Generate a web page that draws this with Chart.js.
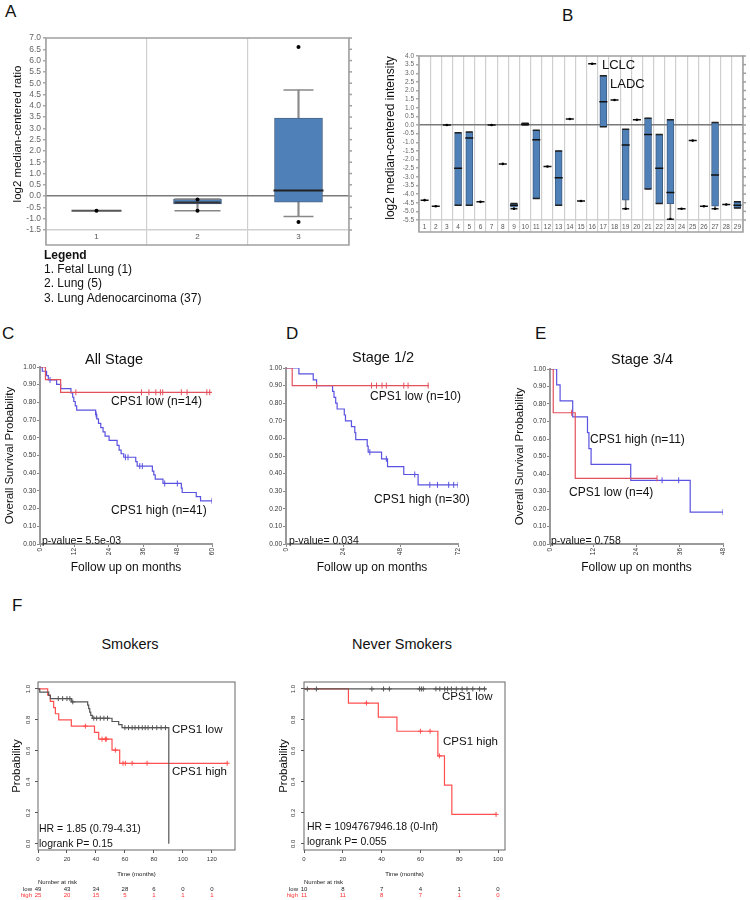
<!DOCTYPE html>
<html><head><meta charset="utf-8"><title>CPS1 figure</title>
<script src="https://cdn.jsdelivr.net/npm/chart.js@4.4.1/dist/chart.umd.min.js"></script>
<style>
html,body{margin:0;padding:0;background:#fff;}
#page{position:relative;width:750px;height:900px;overflow:hidden;font-family:"Liberation Sans",Arial,Helvetica,sans-serif;color:#111;}
#page canvas{position:absolute;}
.t{position:absolute;white-space:nowrap;line-height:1;transform:translate(0,-50%);}
.c{transform:translate(-50%,-50%);}
.L{font-size:17px;}
.ttl{font-size:14.5px;}
.an{font-size:12px;}
.sm{font-size:10.5px;}
</style></head>
<body><div id="page">
<canvas id="cA" width="360" height="225" style="left:0px;top:30px"></canvas>
<canvas id="cB" width="375" height="200" style="left:375px;top:45px"></canvas>
<canvas id="cC" width="250" height="240" style="left:0px;top:345px"></canvas>
<canvas id="cD" width="250" height="240" style="left:250px;top:345px"></canvas>
<canvas id="cE" width="250" height="240" style="left:500px;top:345px"></canvas>
<canvas id="cF1" width="260" height="230" style="left:0px;top:670px"></canvas>
<canvas id="cF2" width="260" height="230" style="left:260px;top:670px"></canvas>

<div class="t L" style="left:5px;top:11px">A</div>
<div class="t L" style="left:562px;top:15px">B</div>
<div class="t L" style="left:2px;top:333px">C</div>
<div class="t L" style="left:286px;top:333px">D</div>
<div class="t L" style="left:535px;top:333px">E</div>
<div class="t L" style="left:12px;top:605px">F</div>

<div class="t an" style="left:44px;top:255px;font-weight:bold">Legend</div>
<div class="t an" id="lg1" style="left:44px;top:269px"></div>
<div class="t an" id="lg2" style="left:44px;top:283px"></div>
<div class="t an" id="lg3" style="left:44px;top:298px"></div>

<div class="t" style="left:602px;top:64px;font-size:13px">LCLC</div>
<div class="t" style="left:610px;top:83px;font-size:13px">LADC</div>

<div class="t c ttl" style="left:114px;top:359px">All Stage</div>
<div class="t c ttl" style="left:383px;top:357px">Stage 1/2</div>
<div class="t c ttl" style="left:642px;top:359px">Stage 3/4</div>
<div class="t c ttl" style="left:130px;top:644px">Smokers</div>
<div class="t c ttl" style="left:402px;top:644px">Never Smokers</div>

<div class="t an" style="left:111px;top:401px">CPS1 low (n=14)</div>
<div class="t an" style="left:111px;top:510px">CPS1 high (n=41)</div>
<div class="t sm" style="left:42px;top:540px">p-value= 5.5e-03</div>
<div class="t an" style="left:370px;top:396px">CPS1 low (n=10)</div>
<div class="t an" style="left:374px;top:499px">CPS1 high (n=30)</div>
<div class="t sm" style="left:289px;top:540px">p-value= 0.034</div>
<div class="t an" style="left:590px;top:439px">CPS1 high (n=11)</div>
<div class="t an" style="left:569px;top:492px">CPS1 low (n=4)</div>
<div class="t sm" style="left:551px;top:540px">p-value= 0.758</div>

<div class="t an" style="left:172px;top:730px;font-size:11.5px">CPS1 low</div>
<div class="t an" style="left:172px;top:772px;font-size:11.5px">CPS1 high</div>
<div class="t sm" style="left:39px;top:828px">HR = 1.85 (0.79-4.31)</div>
<div class="t sm" style="left:39px;top:843px">logrank P= 0.15</div>
<div class="t an" style="left:442px;top:697px;font-size:11.5px">CPS1 low</div>
<div class="t an" style="left:443px;top:742px;font-size:11.5px">CPS1 high</div>
<div class="t sm" style="left:307px;top:826px">HR = 1094767946.18 (0-Inf)</div>
<div class="t sm" style="left:307px;top:841px">logrank P= 0.055</div>
</div>
<script>
const FONT = '"Liberation Sans", Arial, Helvetica, sans-serif';
Chart.defaults.font.family = FONT;
Chart.defaults.color = '#222';

// ---------- Panel A : box plot ----------
const catsA = ['1', '2', '3'];
const aQ1 = [null, -0.34, -0.27];
const aQ3 = [null, -0.13, 3.45];
const aMed = [-0.65, -0.28, 0.25];
const aLo = [null, -0.65, -0.9];
const aHi = [null, -0.13, 4.7];
const aDotCats = ['1', '2', '2', '3', '3'];
const aDotVals = [-0.65, -0.15, -0.65, 6.6, -1.15];
const aYTicks = [7, 6.5, 6, 5.5, 5, 4.5, 4, 3.5, 3, 2.5, 2, 1.5, 1, 0.5, 0, -0.5, -1, -1.5];
const legendA = ['1. Fetal Lung (1)', '2. Lung (5)', '3. Lung Adenocarcinoma (37)'];

// ---------- Panel B : box plot ----------
const catsB = ['1','2','3','4','5','6','7','8','9','10','11','12','13','14','15','16','17','18','19','20','21','22','23','24','25','26','27','28','29'];
const bQ1 = [null,null,null,-4.65,-4.65,null,null,null,-4.75,0.0,-4.25,null,-4.65,null,null,null,-0.1,null,-4.35,null,-3.7,-4.55,-4.55,null,null,null,-4.7,null,-4.8];
const bQ3 = [null,null,null,-0.45,-0.4,null,null,null,-4.55,0.1,-0.3,null,-1.5,null,null,null,2.85,null,-0.25,null,0.4,-0.55,0.3,null,null,null,0.15,null,-4.45];
const bMed = [-4.35,-4.7,0.0,-2.5,-0.75,-4.45,0.0,-2.25,-4.65,0.05,-0.85,-2.4,-3.05,0.35,-4.4,3.55,1.35,1.45,-1.15,0.3,-0.55,-2.5,-3.9,-4.85,-0.9,-4.7,-2.9,-4.6,-4.65];
const bLo = [null,null,null,-4.65,-4.65,null,null,null,-4.85,0.0,-4.25,null,-4.65,null,null,null,-0.1,null,-4.85,null,-3.7,-4.55,-5.45,null,null,null,-4.85,null,-4.8];
const bHi = [null,null,null,-0.45,-0.4,null,null,null,-4.55,0.1,-0.3,null,-1.5,null,null,null,2.85,null,-0.25,null,0.4,-0.55,0.3,null,null,null,0.15,null,-4.45];
const bDotCats = ['1','2','3','6','7','8','12','14','15','16','18','20','24','25','26','28','9','19','23','27'];
const bDotVals = [-4.35,-4.7,0.0,-4.45,0.0,-2.25,-2.4,0.35,-4.4,3.55,1.45,0.3,-4.85,-0.9,-4.7,-4.6,-4.85,-4.85,-5.45,-4.85];
const bYTicks = [4,3.5,3,2.5,2,1.5,1,0.5,0,-0.5,-1,-1.5,-2,-2.5,-3,-3.5,-4,-4.5,-5,-5.5];

// ---------- Panels C/D/E : Kaplan-Meier ----------
const kmYTicks = [0,0.1,0.2,0.3,0.4,0.5,0.6,0.7,0.8,0.9,1.0];
const cXTicks = [0,12,24,36,48,60];
const cLowT = [0, 1.9, 7.2];
const cLowS = [1, 0.929, 0.857];
const cLowEnd = 60;
const cLowCens = [12.5, 35.4, 38, 40.4, 42, 42.8, 49.3, 51.3, 58.2, 59.2];
const cHighT = [0,0.8,2.3,2.9,5.8,7.2,10.8,11.4,11.8,12.3,12.8,19.4,19.8,20.4,21.2,22.0,22.7,24.1,26.9,27.6,28.3,29.2,33.4,33.9,39.2,39.7,40.2,42.9,49.3,49.6,54.5,56.0];
const cHighS = [1,0.976,0.951,0.927,0.902,0.878,0.854,0.829,0.805,0.780,0.756,0.731,0.707,0.682,0.658,0.634,0.610,0.585,0.557,0.530,0.510,0.490,0.465,0.440,0.412,0.390,0.366,0.342,0.316,0.291,0.268,0.244];
const cHighEnd = 60;
const cHighCens = [3.5, 19.6, 29.8, 30.7, 34.8, 35.7, 43.5, 47.9, 60];

const dXTicks = [0,24,48,72];
const dLowT = [0, 2.6];
const dLowS = [1, 0.9];
const dLowEnd = 59.8;
const dLowCens = [12.8, 35.8, 37.9, 40.2, 42, 49.3, 51.1, 59.5];
const dHighT = [0,5.4,11.4,12.8,19.5,20.1,20.8,21.4,24.4,24.9,27.4,28.8,29.2,34.0,34.4,40.0,42.5,49.3,55.3];
const dHighS = [1,0.967,0.933,0.900,0.867,0.833,0.800,0.767,0.733,0.700,0.667,0.633,0.593,0.556,0.522,0.484,0.440,0.395,0.336];
const dHighEnd = 72;
const dHighCens = [35.1, 42, 53.9, 60.2, 63.4, 68.1, 70.2, 72];

const eXTicks = [0,12,24,36,48];
const eLowT = [0, 0.9, 7.0];
const eLowS = [1, 0.75, 0.375];
const eLowEnd = 29.7;
const eLowCens = [6.0, 29.7];
const eHighT = [0,1.85,2.8,6.3,10.4,10.8,11.4,22.4,38.9];
const eHighS = [1,0.909,0.818,0.727,0.636,0.545,0.455,0.364,0.182];
const eHighEnd = 48;
const eHighCens = [31.1, 35.7, 48];

// ---------- Panel F : smokers / never smokers ----------
const fYTicks = [0,0.2,0.4,0.6,0.8,1.0];
const f1XTicks = [0,20,40,60,80,100,120];
const f1LowT = [0,1.2,7.4,8.5,23,34.3,35,35.7,36.4,37.5,51.1,55.7,58,90.3];
const f1LowS = [1,0.98,0.959,0.938,0.917,0.896,0.873,0.85,0.83,0.811,0.79,0.77,0.75,0];
const f1LowEnd = 90.3;
const f1LowCens = [14,17,20,22,24,38.5,40.5,43,45.5,48,60,62.5,65,67,69.5,72,74,76,79,82,85,88];
const f1HighT = [0,6.7,8.5,10.8,12,14.3,23,39,41.9,51.1,56.4];
const f1HighS = [1,0.96,0.92,0.88,0.84,0.80,0.76,0.72,0.676,0.605,0.52];
const f1HighEnd = 130.6;
const f1HighCens = [32.7,44.2,46.5,47.2,53.4,58.7,60.3,65,75.3,130.6];
const riskTimesF1 = [0,20,40,60,80,100,120];
const riskLowF1 = [49,43,34,28,6,0,0];
const riskHighF1 = [25,20,15,5,1,1,1];

const f2XTicks = [0,20,40,60,80,100];
const f2LowT = [0];
const f2LowS = [1];
const f2LowEnd = 94;
const f2LowCens = [1.7,6.4,35,41,44,59.5,60.5,61.5,68,70,72.5,74,76,78.5,81.5,84,87,90.5,93];
const f2HighT = [0,22.9,38.3,47.9,69,72.4,76.2];
const f2HighS = [1,0.909,0.818,0.727,0.568,0.379,0.19];
const f2HighEnd = 99;
const f2HighCens = [32.2,60,65,69.8,99];
const riskTimesF2 = [0,20,40,60,80,100];
const riskLowF2 = [10,8,7,4,1,0];
const riskHighF2 = [11,11,8,7,1,0];

// ---------- helpers ----------
document.getElementById('lg1').textContent = legendA[0];
document.getElementById('lg2').textContent = legendA[1];
document.getElementById('lg3').textContent = legendA[2];

function stepPoints(t, s, end) {
  const pts = t.map((v, i) => ({x: v, y: s[i]}));
  pts.push({x: end, y: s[s.length - 1]});
  return pts;
}
function survAt(t, s, time) {
  let v = s[0];
  for (let i = 0; i < t.length; i++) { if (t[i] <= time) v = s[i]; }
  return v;
}
function makeFrame(o) {
  return {id: 'frame', afterDraw(chart) {
    const {ctx, chartArea: a} = chart;
    ctx.save();
    ctx.strokeStyle = o.color; ctx.lineWidth = o.width;
    ctx.strokeRect(a.left, a.top, a.right - a.left, a.bottom - a.top + (o.extra || 0));
    if (o.rightTicks) {
      const y = chart.scales.y;
      y.ticks.forEach(tk => {
        const p = y.getPixelForValue(tk.value);
        ctx.beginPath(); ctx.moveTo(a.right, p); ctx.lineTo(a.right + o.rightTicks, p); ctx.stroke();
      });
    }
    ctx.restore();
  }};
}
function makeRotY(o) {
  return {id: 'rotY', afterDraw(chart) {
    const {ctx} = chart; const y = chart.scales.y;
    ctx.save();
    ctx.font = o.size + 'px ' + FONT; ctx.fillStyle = '#333';
    ctx.textAlign = 'center'; ctx.textBaseline = 'middle';
    o.ticks.forEach(v => {
      const p = y.getPixelForValue(v);
      ctx.save(); ctx.translate(o.x, p); ctx.rotate(-Math.PI / 2);
      ctx.fillText(v.toFixed(1), 0, 0); ctx.restore();
    });
    ctx.restore();
  }};
}
function makeRisk(o) {
  return {id: 'risk', afterDraw(chart) {
    const {ctx, chartArea: a} = chart; const x = chart.scales.x;
    ctx.save();
    ctx.font = '6px ' + FONT; ctx.textBaseline = 'middle';
    const x0 = x.getPixelForValue(o.times[0]);
    ctx.fillStyle = '#222'; ctx.textAlign = 'left';
    ctx.fillText('Number at risk', x0, a.bottom + o.dy[0]);
    ctx.textAlign = 'right';
    ctx.fillText('low', x0 - 6, a.bottom + o.dy[1]);
    ctx.fillStyle = o.highColor;
    ctx.fillText('high', x0 - 6, a.bottom + o.dy[2]);
    ctx.textAlign = 'center';
    o.times.forEach((t, i) => {
      const px = x.getPixelForValue(t);
      ctx.fillStyle = '#222'; ctx.fillText(String(o.low[i]), px, a.bottom + o.dy[1]);
      ctx.fillStyle = o.highColor; ctx.fillText(String(o.high[i]), px, a.bottom + o.dy[2]);
    });
    ctx.restore();
  }};
}

const BLUE = '#4f80b8';

function boxChart(id, o) {
  const cats = o.cats;
  return new Chart(document.getElementById(id), {
    type: 'bar',
    data: {labels: cats, datasets: [
      {type: 'bar', data: cats.map((c, i) => o.lo[i] == null ? null : [o.lo[i], o.hi[i]]), backgroundColor: o.whColor, barThickness: o.whW, grouped: false, order: 5},
      {type: 'bar', data: cats.map((c, i) => o.q1[i] == null ? null : [o.q1[i], o.q3[i]]), backgroundColor: BLUE, borderColor: o.boxBorder, borderWidth: 1, borderSkipped: false, barThickness: o.boxW, grouped: false, order: 4},
      {type: 'line', data: o.lo, showLine: false, pointStyle: 'line', pointRadius: o.capR, pointBorderColor: o.capColor, pointBackgroundColor: o.capColor, pointBorderWidth: o.capLW, order: 3},
      {type: 'line', data: o.hi, showLine: false, pointStyle: 'line', pointRadius: o.capR, pointBorderColor: o.capColor, pointBackgroundColor: o.capColor, pointBorderWidth: o.capLW, order: 3},
      {type: 'line', data: o.med, showLine: false, pointStyle: 'line', pointRadius: o.medR, pointBorderColor: o.medColor, pointBackgroundColor: o.medColor, pointBorderWidth: o.medLW, order: 2},
      {type: 'line', data: o.dotCats.map((c, i) => ({x: c, y: o.dotVals[i]})), showLine: false, pointStyle: 'circle', pointRadius: o.dotR, pointBackgroundColor: '#000', pointBorderColor: '#000', pointBorderWidth: 0, order: 1}
    ]},
    options: {
      devicePixelRatio: 1, responsive: false, animation: false, events: [],
      layout: {padding: o.pad, autoPadding: false},
      plugins: {legend: {display: false}, tooltip: {enabled: false}},
      scales: {
        x: {type: 'category', offset: true, border: {display: false},
          grid: {offset: true, color: '#cfcfcf', lineWidth: 1.2, drawTicks: true, tickLength: o.xH, tickColor: '#cfcfcf'},
          ticks: {font: {size: o.xFont}, color: '#555', padding: o.xPad, autoSkip: false, maxRotation: 0},
          afterFit: s => { s.height = o.xH; }},
        y: {type: 'linear', min: o.yMin, max: o.yMax, border: {display: false},
          afterBuildTicks: s => { s.ticks = o.yTicks.map(v => ({value: v})); },
          grid: {color: c => (c.tick && c.tick.value === 0) ? '#7a7a7a' : ((c.tick && c.tick.value === o.yMin) ? '#d0d0d0' : 'rgba(0,0,0,0)'),
                 lineWidth: 1.5, tickColor: '#aaa', tickLength: 3},
          ticks: {font: {size: o.yFont}, color: '#666', padding: 2, autoSkip: false, callback: v => Number(v).toFixed(1)},
          title: {display: true, text: o.yTitle, font: {size: o.yTitleSize}, color: '#111', padding: {top: o.yTitlePad, bottom: 0}},
          afterFit: s => { s.width = o.yW; }}
      }
    },
    plugins: [makeFrame({extra: o.xH, color: '#a0a0a0', width: 1.5, rightTicks: 3})]
  });
}

function kmChart(id, o) {
  const ds = [
    {data: stepPoints(o.hT, o.hS, o.hEnd), borderColor: o.hC, borderWidth: o.lw, stepped: 'before', pointRadius: 0, fill: false, order: 3},
    {data: stepPoints(o.lT, o.lS, o.lEnd), borderColor: o.lC, borderWidth: o.lw, stepped: 'before', pointRadius: 0, fill: false, order: 2},
    {data: o.hCens.map(t => ({x: t, y: survAt(o.hT, o.hS, t)})), showLine: false, pointStyle: o.mark, pointRotation: o.markRot, pointRadius: o.markR, pointBorderColor: o.hC, pointBackgroundColor: o.hC, pointBorderWidth: 1, order: 1},
    {data: o.lCens.map(t => ({x: t, y: survAt(o.lT, o.lS, t)})), showLine: false, pointStyle: o.mark, pointRotation: o.markRot, pointRadius: o.markR, pointBorderColor: o.lC, pointBackgroundColor: o.lC, pointBorderWidth: 1, order: 0}
  ];
  const plugins = [];
  if (o.frame) plugins.push(makeFrame({extra: 0, color: '#666', width: 1}));
  if (o.rotY) plugins.push(makeRotY(o.rotY));
  if (o.risk) plugins.push(makeRisk(o.risk));
  return new Chart(document.getElementById(id), {
    type: 'line',
    data: {datasets: ds},
    options: {
      devicePixelRatio: 1, responsive: false, animation: false, events: [],
      layout: {padding: o.pad, autoPadding: false},
      plugins: {legend: {display: false}, tooltip: {enabled: false}},
      scales: {
        x: {type: 'linear', min: 0, max: o.xMax,
          afterBuildTicks: s => { s.ticks = o.xTicks.map(v => ({value: v})); },
          border: {display: o.axisBorder, color: '#999', width: 2},
          grid: {drawOnChartArea: false, drawTicks: true, tickLength: 3, color: o.tickCol},
          ticks: {font: {size: o.tickFont}, color: '#333', padding: o.xTickPad, autoSkip: false, minRotation: o.xRot, maxRotation: o.xRot},
          title: {display: true, text: o.xTitle, font: {size: o.xTitleSize}, color: '#111', padding: {top: 0, bottom: o.xTitlePad}},
          afterFit: s => { s.height = o.xH; }},
        y: {type: 'linear', min: o.yMin, max: o.yMax,
          afterBuildTicks: s => { s.ticks = o.yTicks.map(v => ({value: v})); },
          border: {display: o.axisBorder, color: '#999', width: 2},
          grid: {drawOnChartArea: false, drawTicks: true, tickLength: 3, color: o.tickCol},
          ticks: {display: !o.rotY, font: {size: o.tickFont}, color: '#333', padding: 1, autoSkip: false, callback: v => Number(v).toFixed(2)},
          title: {display: !!o.yTitle, text: o.yTitle || '', font: {size: 11.5}, color: '#111', padding: {top: o.yTitlePad || 0, bottom: 0}},
          afterFit: s => { s.width = o.yW; }}
      }
    },
    plugins: plugins
  });
}

// ---------- build charts ----------
boxChart('cA', {
  cats: catsA, q1: aQ1, q3: aQ3, med: aMed, lo: aLo, hi: aHi, dotCats: aDotCats, dotVals: aDotVals,
  yMin: -1.5, yMax: 7, yTicks: aYTicks, yW: 46, xH: 15, xFont: 8, xPad: -13, yFont: 8.5,
  yTitle: 'log2 median-centered ratio', yTitleSize: 11.5, yTitlePad: 11,
  pad: {left: 0, top: 8, right: 11, bottom: 10},
  whColor: '#8a8a8a', whW: 1.5, boxW: 48, boxBorder: '#4a6688',
  capR: [0, 23, 15], capColor: '#888', capLW: 1.5,
  medR: [25, 23, 25], medColor: ['#555', '#333', '#222'], medLW: 2, dotR: 2
});

boxChart('cB', {
  cats: catsB, q1: bQ1, q3: bQ3, med: bMed, lo: bLo, hi: bHi, dotCats: bDotCats, dotVals: bDotVals,
  yMin: -5.5, yMax: 4, yTicks: bYTicks, yW: 44, xH: 12, xFont: 6.5, xPad: -9, yFont: 6.5,
  yTitle: 'log2 median-centered intensity', yTitleSize: 12, yTitlePad: 8,
  pad: {left: 0, top: 11, right: 7, bottom: 13},
  whColor: '#888', whW: 1, boxW: 7, boxBorder: '#3f5f85',
  capR: 3.5, capColor: '#222', capLW: 1.5,
  medR: 4, medColor: '#111', medLW: 1.5, dotR: 1.3
});

const RED = '#e4505c', PURP = '#5a52e0';
kmChart('cC', {
  hT: cHighT, hS: cHighS, hEnd: cHighEnd, hCens: cHighCens, hC: PURP,
  lT: cLowT, lS: cLowS, lEnd: cLowEnd, lCens: cLowCens, lC: RED,
  lw: 1.2, mark: 'line', markRot: 90, markR: 3,
  xMax: 60, xTicks: cXTicks, yMin: 0, yMax: 1, yTicks: kmYTicks,
  axisBorder: true, tickCol: '#888', tickFont: 6.5, xTickPad: 1, xRot: 90,
  xTitle: 'Follow up on months', xTitleSize: 12, xTitlePad: 3.8, xH: 35,
  yTitle: 'Overall Survival Probability', yTitlePad: 3.1, yW: 40,
  pad: {left: 0, top: 22, right: 38, bottom: 6}
});
kmChart('cD', {
  hT: dHighT, hS: dHighS, hEnd: dHighEnd, hCens: dHighCens, hC: PURP,
  lT: dLowT, lS: dLowS, lEnd: dLowEnd, lCens: dLowCens, lC: RED,
  lw: 1.2, mark: 'line', markRot: 90, markR: 3,
  xMax: 72, xTicks: dXTicks, yMin: 0, yMax: 1, yTicks: kmYTicks,
  axisBorder: true, tickCol: '#888', tickFont: 6.5, xTickPad: 1, xRot: 90,
  xTitle: 'Follow up on months', xTitleSize: 12, xTitlePad: 3.8, xH: 35,
  yTitle: null, yW: 36,
  pad: {left: 0, top: 23, right: 42, bottom: 6}
});
kmChart('cE', {
  hT: eHighT, hS: eHighS, hEnd: eHighEnd, hCens: eHighCens, hC: PURP,
  lT: eLowT, lS: eLowS, lEnd: eLowEnd, lCens: eLowCens, lC: RED,
  lw: 1.2, mark: 'line', markRot: 90, markR: 3,
  xMax: 48, xTicks: eXTicks, yMin: 0, yMax: 1, yTicks: kmYTicks,
  axisBorder: true, tickCol: '#888', tickFont: 6.5, xTickPad: 1, xRot: 90,
  xTitle: 'Follow up on months', xTitleSize: 12, xTitlePad: 3.8, xH: 35,
  yTitle: 'Overall Survival Probability', yTitlePad: 12.6, yW: 50,
  pad: {left: 0, top: 24, right: 27, bottom: 6}
});

const FRED = '#ff4f4f', FGRAY = '#555555';
kmChart('cF1', {
  hT: f1HighT, hS: f1HighS, hEnd: f1HighEnd, hCens: f1HighCens, hC: FRED,
  lT: f1LowT, lS: f1LowS, lEnd: f1LowEnd, lCens: f1LowCens, lC: FGRAY,
  lw: 1.2, mark: 'cross', markRot: 0, markR: 2.5,
  xMax: 136, xTicks: f1XTicks, yMin: -0.04, yMax: 1.045, yTicks: fYTicks,
  axisBorder: false, tickCol: '#555', tickFont: 6, xTickPad: 3, xRot: 0,
  xTitle: 'Time (months)', xTitleSize: 6, xTitlePad: 2.4, xH: 30,
  yTitle: 'Probability', yTitlePad: 10, yW: 38,
  pad: {left: 0, top: 12, right: 25, bottom: 20},
  frame: true, rotY: {x: 28, size: 6, ticks: fYTicks},
  risk: {times: riskTimesF1, low: riskLowF1, high: riskHighF1, dy: [32, 39, 45], highColor: '#ff3030'}
});
kmChart('cF2', {
  hT: f2HighT, hS: f2HighS, hEnd: f2HighEnd, hCens: f2HighCens, hC: FRED,
  lT: f2LowT, lS: f2LowS, lEnd: f2LowEnd, lCens: f2LowCens, lC: FGRAY,
  lw: 1.2, mark: 'cross', markRot: 0, markR: 2.5,
  xMax: 103.6, xTicks: f2XTicks, yMin: -0.04, yMax: 1.045, yTicks: fYTicks,
  axisBorder: false, tickCol: '#555', tickFont: 6, xTickPad: 3, xRot: 0,
  xTitle: 'Time (months)', xTitleSize: 6, xTitlePad: 2.4, xH: 30,
  yTitle: 'Probability', yTitlePad: 16.6, yW: 44,
  pad: {left: 0, top: 12, right: 15, bottom: 20},
  frame: true, rotY: {x: 33, size: 6, ticks: fYTicks},
  risk: {times: riskTimesF2, low: riskLowF2, high: riskHighF2, dy: [32, 39, 45], highColor: '#ff3030'}
});
</script>
</body></html>
